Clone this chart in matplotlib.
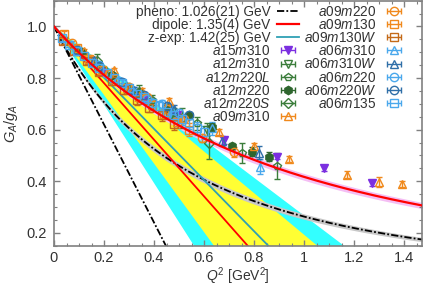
import numpy as np
import matplotlib
matplotlib.use("Agg")
import matplotlib.pyplot as plt
from matplotlib.ticker import MultipleLocator, FormatStrFormatter, FuncFormatter

plt.rcParams['font.family'] = ['Liberation Sans', 'DejaVu Sans']
plt.rcParams['mathtext.fontset'] = 'custom'
plt.rcParams['mathtext.rm'] = 'Liberation Sans'
plt.rcParams['mathtext.it'] = 'Liberation Sans:italic'

# ---- fit parameters (GeV) ----
M_pheno, dM_pheno = 1.026, 0.021
M_dip, dM_dip = 1.35, 0.03
M_z = 1.42
M_z_band_outer = (1.148, 1.652)
M_z_band_inner = (1.227, 1.574)

# ---- data (Q^2 [GeV^2], G_A/g_A, error) ----
a15m310_x = [0.19, 0.36, 0.49, 0.68, 0.89, 1.08, 1.27]
a15m310_y = [0.825, 0.715, 0.655, 0.558, 0.495, 0.450, 0.392]
a15m310_e = [0.010, 0.010, 0.012, 0.012, 0.010, 0.012, 0.012]

a12m310_x = [0.17, 0.33, 0.47, 0.61]
a12m310_y = [0.845, 0.740, 0.665, 0.600]
a12m310_e = [0.010, 0.015, 0.020, 0.025]

a12m220L_x = [0.10, 0.20, 0.29, 0.39, 0.48, 0.57, 0.75, 0.89]
a12m220L_y = [0.905, 0.830, 0.765, 0.715, 0.665, 0.625, 0.510, 0.458]
a12m220L_e = [0.010, 0.012, 0.015, 0.020, 0.020, 0.025, 0.040, 0.050]

a12m220_x = [0.11, 0.23, 0.34, 0.45, 0.54, 0.63, 0.71, 0.79, 0.86]
a12m220_y = [0.900, 0.810, 0.745, 0.685, 0.655, 0.610, 0.535, 0.515, 0.495]
a12m220_e = [0.008, 0.010, 0.012, 0.012, 0.015, 0.015, 0.015, 0.018, 0.018]

a12m220S_x = [0.17, 0.34, 0.51, 0.62]
a12m220S_y = [0.865, 0.745, 0.645, 0.548]
a12m220S_e = [0.030, 0.030, 0.040, 0.060]

a09m310_x = [0.12, 0.24, 0.35, 0.46, 0.51, 0.66, 0.80, 0.94, 1.17, 1.30, 1.39]
a09m310_y = [0.905, 0.830, 0.750, 0.710, 0.645, 0.590, 0.535, 0.485, 0.426, 0.397, 0.388]
a09m310_e = [0.008, 0.010, 0.010, 0.012, 0.012, 0.012, 0.012, 0.012, 0.012, 0.020, 0.012]

a09m220_x = [0.07, 0.15, 0.22, 0.30, 0.37, 0.45, 0.52, 0.59, 0.72]
a09m220_y = [0.935, 0.870, 0.815, 0.765, 0.725, 0.680, 0.640, 0.567, 0.513]
a09m220_e = [0.008, 0.010, 0.010, 0.012, 0.012, 0.015, 0.015, 0.015, 0.018]

a09m130_x = [0.04, 0.09, 0.14, 0.19, 0.24, 0.29, 0.34, 0.39, 0.44, 0.49, 0.54]
a09m130_y = [0.970, 0.915, 0.875, 0.830, 0.795, 0.760, 0.725, 0.695, 0.660, 0.630, 0.600]
a09m130_e = [0.012, 0.012, 0.015, 0.015, 0.015, 0.018, 0.018, 0.020, 0.020, 0.022, 0.025]

a09m130W_x = [0.035, 0.08, 0.13, 0.18, 0.23, 0.28, 0.33, 0.38, 0.43, 0.48]
a09m130W_y = [0.945, 0.905, 0.865, 0.825, 0.790, 0.755, 0.715, 0.685, 0.655, 0.620]
a09m130W_e = [0.012, 0.012, 0.012, 0.015, 0.015, 0.015, 0.018, 0.018, 0.020, 0.022]

a06m310_x = [0.16, 0.32, 0.47, 0.63, 0.825]
a06m310_y = [0.865, 0.750, 0.675, 0.605, 0.457]
a06m310_e = [0.010, 0.015, 0.020, 0.025, 0.030]

a06m310W_x = [0.16, 0.32, 0.48, 0.67, 0.82]
a06m310W_y = [0.870, 0.755, 0.680, 0.555, 0.510]
a06m310W_e = [0.010, 0.012, 0.015, 0.020, 0.025]

a06m220_x = [0.09, 0.18, 0.26, 0.31, 0.37, 0.43, 0.50]
a06m220_y = [0.905, 0.850, 0.790, 0.745, 0.720, 0.700, 0.665]
a06m220_e = [0.008, 0.010, 0.010, 0.012, 0.012, 0.015, 0.015]

a06m220W_x = [0.09, 0.18, 0.27, 0.36, 0.45, 0.54]
a06m220W_y = [0.910, 0.845, 0.785, 0.735, 0.690, 0.655]
a06m220W_e = [0.008, 0.010, 0.010, 0.012, 0.015, 0.015]

a06m135_x = [0.03, 0.06, 0.09, 0.12, 0.15, 0.18, 0.21, 0.24, 0.27, 0.30,
             0.33, 0.36, 0.39, 0.42, 0.45, 0.48, 0.51, 0.54, 0.57, 0.60]
a06m135_y = [0.955, 0.930, 0.905, 0.885, 0.860, 0.840, 0.820, 0.800, 0.780, 0.760,
             0.740, 0.725, 0.705, 0.690, 0.670, 0.655, 0.640, 0.625, 0.605, 0.590]
a06m135_e = [0.010, 0.010, 0.010, 0.012, 0.012, 0.012, 0.015, 0.015, 0.015, 0.015,
             0.018, 0.018, 0.018, 0.020, 0.020, 0.020, 0.022, 0.022, 0.025, 0.025]

x_ticks = [0, 0.2, 0.4, 0.6, 0.8, 1.0, 1.2, 1.4]
y_ticks = [0.2, 0.4, 0.6, 0.8, 1.0]

# ---- colours ----
green = '#3b7d3b'
dgreen = '#2e662e'
orange = '#f0891c'
dorange = '#c46a18'
lblue = '#4aa8ec'
sblue = '#2f6fa8'
purple = '#7b2fe0'

series = [
    ('$a15m310$', a15m310_x, a15m310_y, a15m310_e, 'v', purple, True),
    ('$a12m310$', a12m310_x, a12m310_y, a12m310_e, 'v', green, False),
    ('$a12m220L$', a12m220L_x, a12m220L_y, a12m220L_e, 'p', green, False),
    ('$a12m220$', a12m220_x, a12m220_y, a12m220_e, 'h', dgreen, True),
    ('$a12m220S$', a12m220S_x, a12m220S_y, a12m220S_e, 'D', green, False),
    ('$a09m310$', a09m310_x, a09m310_y, a09m310_e, '^', orange, False),
    ('$a09m220$', a09m220_x, a09m220_y, a09m220_e, 'o', orange, False),
    ('$a09m130$', a09m130_x, a09m130_y, a09m130_e, 's', orange, False),
    ('$a09m130W$', a09m130W_x, a09m130W_y, a09m130W_e, 's', dorange, False),
    ('$a06m310$', a06m310_x, a06m310_y, a06m310_e, '^', lblue, False),
    ('$a06m310W$', a06m310W_x, a06m310W_y, a06m310W_e, '^', sblue, False),
    ('$a06m220$', a06m220_x, a06m220_y, a06m220_e, 'o', lblue, False),
    ('$a06m220W$', a06m220W_x, a06m220W_y, a06m220W_e, 'o', sblue, False),
    ('$a06m135$', a06m135_x, a06m135_y, a06m135_e, 's', lblue, False),
]

fig = plt.figure(figsize=(4.24, 2.86), dpi=100)
ax = fig.add_axes([54 / 424, 1 - 245.7 / 286, 368 / 424, 245.0 / 286])

q = np.linspace(0, 1.5, 400)

def dipole(Q2, M):
    return 1.0 / (1.0 + Q2 / M ** 2) ** 2

def tangent(Q2, M):
    return 1.0 - 2.0 * Q2 / M ** 2

# bands
ax.fill_between(q, tangent(q, M_z_band_outer[0]), tangent(q, M_z_band_outer[1]),
                color='#33ffff', lw=0, zorder=1)
ax.fill_between(q, tangent(q, M_z_band_inner[0]), tangent(q, M_z_band_inner[1]),
                color='#ffff33', lw=0, zorder=1.1)
ax.fill_between(q, dipole(q, M_dip - dM_dip), dipole(q, M_dip + dM_dip),
                color='#f4bef4', lw=0, zorder=1.2)
ax.fill_between(q, dipole(q, M_pheno - dM_pheno), dipole(q, M_pheno + dM_pheno),
                color='#c8c8c8', lw=0, zorder=1.2)

dash = (0, (4, 1.2, 1, 1.2))
l_pheno, = ax.plot(q, dipole(q, M_pheno), color='black', lw=1.3, ls=dash, zorder=2)
ax.plot(q, tangent(q, M_pheno), color='black', lw=1.3, ls=dash, zorder=2)
ax.plot(q, tangent(q, M_dip), color='red', lw=1.3, zorder=2)
l_z, = ax.plot(q, tangent(q, M_z), color='#2fa0b4', lw=1.3, zorder=2)

MS = 6.0
for lab, x, y, e, m, c, filled in series:
    ax.errorbar(x, y, yerr=e, fmt=m, color=c, ms=MS if m != 'D' else MS - 1,
                mfc=c if filled else 'none', mec=c, mew=1.0, elinewidth=1.0,
                capsize=2.0, capthick=1.0, zorder=3)

l_dip, = ax.plot(q, dipole(q, M_dip), color='red', lw=1.6, zorder=4)

# legend proxies
leg_handles = [l_pheno, l_dip, l_z]
leg_labels = ['pheno: 1.026(21) GeV', 'dipole: 1.35(4) GeV', 'z-exp: 1.42(25) GeV']
for lab, x, y, e, m, c, filled in series:
    h = ax.errorbar([np.nan], [np.nan], xerr=[np.nan], fmt=m, color=c,
                    ms=MS if m != 'D' else MS - 1,
                    mfc=c if filled else 'none', mec=c, mew=1.0, elinewidth=1.0,
                    capsize=2.5, capthick=1.0)
    leg_handles.append(h)
    leg_labels.append(lab)

leg_kw = dict(loc='upper right', frameon=False, markerfirst=False, fontsize=9.8,
              handlelength=1.6, handletextpad=0.5, labelspacing=-0.06,
              borderaxespad=0.0, borderpad=0.0)
leg1 = ax.legend(leg_handles[:9], leg_labels[:9],
                 bbox_to_anchor=((299 - 54) / 368, 0.984), **leg_kw)
ax.add_artist(leg1)
leg2 = ax.legend(leg_handles[9:], leg_labels[9:],
                 bbox_to_anchor=((405 - 54) / 368, 0.984), **leg_kw)
for lg in (leg1, leg2):
    for t in lg.get_texts():
        t.set_color('#333333')

ax.set_xlim(0, 1.472)
ax.set_ylim(0.15, 1.10)
ax.set_xticks(x_ticks)
ax.set_yticks(y_ticks)
ax.xaxis.set_major_formatter(FuncFormatter(lambda v, p: ('%g' % round(v, 2))))
ax.yaxis.set_major_formatter(FormatStrFormatter('%.1f'))
ax.xaxis.set_minor_locator(MultipleLocator(0.05))
ax.yaxis.set_minor_locator(MultipleLocator(0.05))
ax.tick_params(which='both', direction='in', top=True, right=True, color='#808080',
               labelcolor='#333333', labelsize=10.5)
ax.tick_params(which='major', length=4, width=1)
ax.tick_params(which='minor', length=2, width=0.8)
ax.tick_params(axis='x', pad=4)
ax.tick_params(axis='y', pad=5)
for s in ax.spines.values():
    s.set_color('#808080')
    s.set_linewidth(1.2)

ax.set_xlabel(r'$Q^2$ [GeV$^2$]', fontsize=10, color='#333333')
ax.xaxis.set_label_coords(0.5, (245.7 - 265) / 245.0)
ax.set_ylabel(r'$G_A/g_A$', fontsize=10.5, color='#333333')
ax.yaxis.set_label_coords((20 - 54) / 368.0, 0.5)

fig.savefig('out.png', dpi=100)
